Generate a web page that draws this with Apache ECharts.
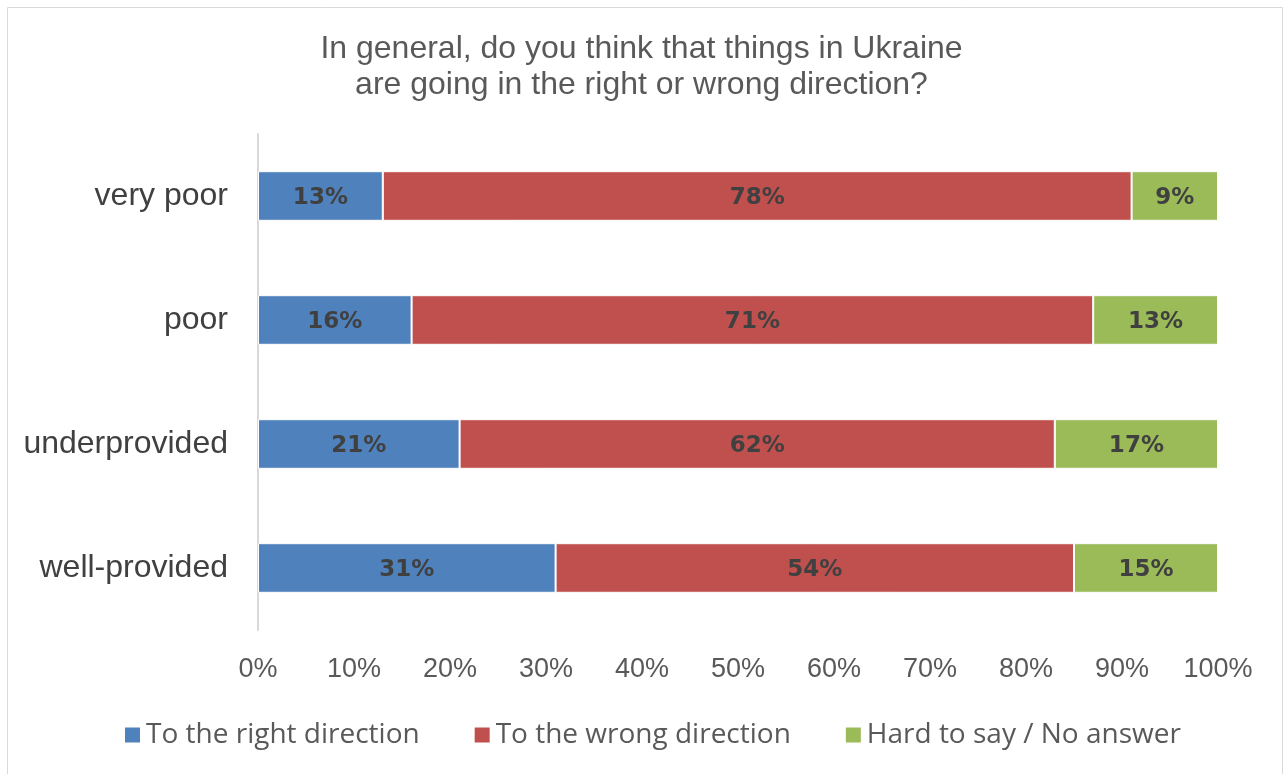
<!DOCTYPE html>
<html><head><meta charset="utf-8">
<script src="https://cdn.jsdelivr.net/npm/echarts@6/dist/echarts.min.js"></script>
<style>html,body{margin:0;padding:0;background:#fff}#c{width:1283px;height:774px}</style>
</head><body><div id="c"></div>
<script>
const categories = ['very poor', 'poor', 'underprovided', 'well-provided'];
const rightDir = [13, 16, 21, 31];
const wrongDir = [78, 71, 62, 54];
const hardToSay = [9, 13, 17, 15];
const seriesNames = ['To the right direction', 'To the wrong direction', 'Hard to say / No answer'];
const colors = ['#4F81BD', '#C0504D', '#9BBB59'];

const chart = echarts.init(document.getElementById('c'), null, {renderer: 'canvas'});
const mk = (name, data, color) => ({
  name, type: 'bar', stack: 'total', data, barCategoryGap: '60%',
  itemStyle: {color, borderColor: '#fff', borderWidth: 1},
  label: {show: true, position: 'inside', offset: [0, 2], formatter: '{c}%', color: '#404040',
    fontFamily: 'DejaVu Sans', fontWeight: 'bold', fontSize: 23},
  emphasis: {disabled: true}
});
chart.setOption({
  animation: false,
  textStyle: {fontFamily: 'Liberation Sans'},
  graphic: [{type: 'rect', shape: {x: 7.5, y: 7.5, width: 1275, height: 800},
    style: {fill: 'none', stroke: '#d9d9d9', lineWidth: 1}}],
  title: {
    text: 'In general, do you think that things in Ukraine\nare going in the right or wrong direction?',
    left: 'center', top: 26,
    textStyle: {fontFamily: 'Liberation Sans', fontWeight: 'normal', fontSize: 32, color: '#595959', lineHeight: 36}
  },
  legend: {
    bottom: 20, left: 118, icon: 'rect', itemWidth: 17, itemHeight: 17, itemGap: 53, itemTextGap: 10,
    textStyle: {fontFamily: 'Open Sans', fontSize: 28, color: '#595959'},
    data: seriesNames
  },
  grid: {left: 258, right: 65, top: 134, bottom: 144, containLabel: false},
  xAxis: {
    type: 'value', min: 0, max: 100, interval: 10,
    axisLabel: {formatter: '{value}%', fontSize: 27, color: '#595959', margin: 26},
    axisLine: {show: false}, axisTick: {show: false}, splitLine: {show: false}
  },
  yAxis: {
    type: 'category', data: categories, inverse: true,
    axisLabel: {fontSize: 32, color: '#404040', margin: 30},
    axisLine: {show: true, lineStyle: {color: '#d9d9d9', width: 2}}, axisTick: {show: false}
  },
  series: [mk(seriesNames[0], rightDir, colors[0]), mk(seriesNames[1], wrongDir, colors[1]), mk(seriesNames[2], hardToSay, colors[2])]
});
</script></body></html>
